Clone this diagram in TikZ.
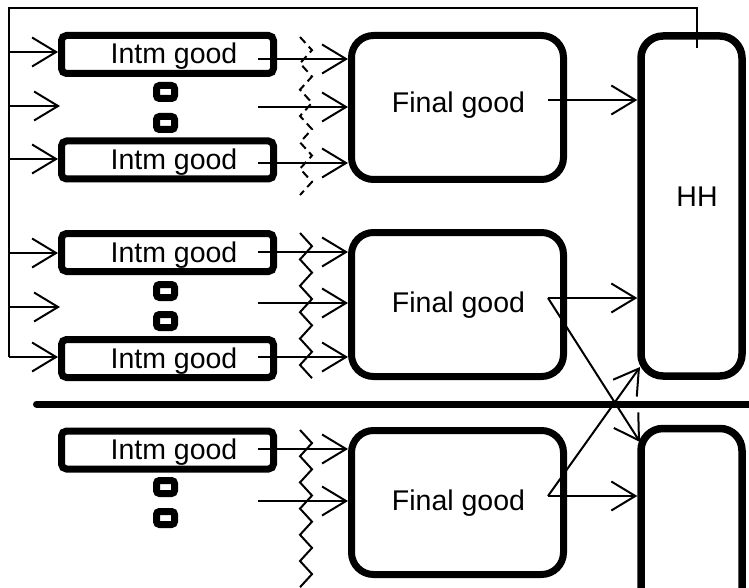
\documentclass[tikz,border=0pt]{standalone}
\usepackage{fontspec}
\setmainfont{Liberation Sans}
\usetikzlibrary{arrows.meta}
\begin{document}
\begin{tikzpicture}[x=1pt,y=-1pt,
  ibox/.style={draw, line width=7pt, rounded corners=5pt, minimum width=212pt, minimum height=38pt, inner sep=0pt},
  fbox/.style={draw, line width=7pt, rounded corners=22pt, minimum width=212pt, minimum height=144pt, inner sep=0pt},
  hbox/.style={draw, line width=7.5pt, rounded corners=22pt, minimum width=101pt, minimum height=340pt, inner sep=0pt},
  dotbox/.style={draw, line width=7pt, rounded corners=3pt, minimum width=18pt, minimum height=13pt, inner sep=0pt},
  lbl/.style={anchor=base, inner sep=0pt, font=\fontsize{28.5}{30}\selectfont},
  wire/.style={line width=2pt},
  arr/.style={line width=2pt, -{Straight Barb[length=24pt, width=29pt]}},
  zz/.style={line width=2pt},
]
\useasboundingbox (0,0) rectangle (749,588);
\clip (0,0) rectangle (749,588);

% intermediate goods
\node[ibox] (a11) at (167.5,54.5) {};
\node[ibox] (a12) at (167.5,160) {};
\node[ibox] (a21) at (167.5,252.5) {};
\node[ibox] (a22) at (167.5,358.5) {};
\node[ibox] (a31) at (167.5,450) {};
\foreach \n/\y in {a11/54.5,a12/160,a21/252.5,a22/358.5,a31/450}
  \node[lbl] (t\n) at (174,\y+9.5) {Intm good};

% ellipsis marks
\node[dotbox] (d11) at (165.5,92) {};
\node[dotbox] (d12) at (165.5,123) {};
\node[dotbox] (d21) at (165.5,291) {};
\node[dotbox] (d22) at (165.5,321) {};
\node[dotbox] (d31) at (165.5,487) {};
\node[dotbox] (d32) at (165.5,518) {};

% final goods
\node[fbox] (f1) at (457.5,107.5) {};
\node[fbox] (f2) at (457.5,304.5) {};
\node[fbox] (f3) at (457.5,502.5) {};
\node[lbl] (tf1) at (458.5,113) {Final good};
\node[lbl] (tf2) at (458.5,312) {Final good};
\node[lbl] (tf3) at (458.5,510) {Final good};

% households
\node[hbox] (hh) at (691.5,206) {};
\node[hbox] (hh2) at (691.5,598.5) {};
\node[lbl] (thh) at (697,207) {HH};

% separator between economies
\coordinate (sepL) at (36.5,404);
\coordinate (sepR) at (760,404);
\draw[line width=7pt, line cap=round] (sepL) -- (sepR);

% feedback loop from households
\coordinate (sT) at (9,8);
\coordinate (sB) at (9,357);
\coordinate (fT) at (697,8);
\coordinate (fE) at (697,48);
\draw[wire] (fE) -- (fT) -- (sT) -- (sB);

\coordinate (r11) at (9,52);
\coordinate (r12) at (9,159);
\coordinate (r21) at (9,253);
\coordinate (r22) at (9,357);
\coordinate (m1) at (60,106);
\coordinate (m2) at (60,307);
\draw[arr] (r11) -- (r11 -| a11.west);
\draw[arr] (r12) -- (r12 -| a12.west);
\draw[arr] (r21) -- (r21 -| a21.west);
\draw[arr] (r22) -- (r22 -| a22.west);
\draw[arr] (m1 -| sT) -- (m1);
\draw[arr] (m2 -| sT) -- (m2);

% intermediate goods into final goods
\coordinate (o11) at (258,59);
\coordinate (o12) at (258,107);
\coordinate (o13) at (258,163);
\coordinate (o21) at (258,252);
\coordinate (o22) at (258,303);
\coordinate (o23) at (258,357);
\coordinate (o31) at (258,449);
\coordinate (o32) at (258,501);
\foreach \c/\f in {o11/f1,o12/f1,o13/f1,o21/f2,o22/f2,o23/f2,o31/f3,o32/f3}
  \draw[arr] (\c) -- (\c -| \f.west);

% frictions
\draw[zz, dash pattern=on 8pt off 5pt] (300,37)
  \foreach \k in {1,...,12}{ -- ({300+12*mod(\k,2)},{37+13.17*\k}) };
\draw[zz] (300,233)
  \foreach \k in {1,...,11}{ -- ({300+12*mod(\k,2)},{233+13.2*\k}) };
\draw[zz] (300,430)
  \foreach \k in {1,...,12}{ -- ({300+12*mod(\k,2)},{430+13.1*\k}) };

% final goods to households
\coordinate (g1) at (548,100);
\coordinate (g2) at (548,298);
\coordinate (g3) at (548,496);
\coordinate (x2) at (640,442);
\coordinate (x3) at (640,367);
\draw[arr] (g1) -- (g1 -| hh.west);
\draw[arr] (g2) -- (g2 -| hh.west);
\draw[arr] (g3) -- (g3 -| hh2.west);
\draw[arr] (g2) -- (x2);
\draw[arr] (g3) -- (x3);
\end{tikzpicture}
\end{document}
